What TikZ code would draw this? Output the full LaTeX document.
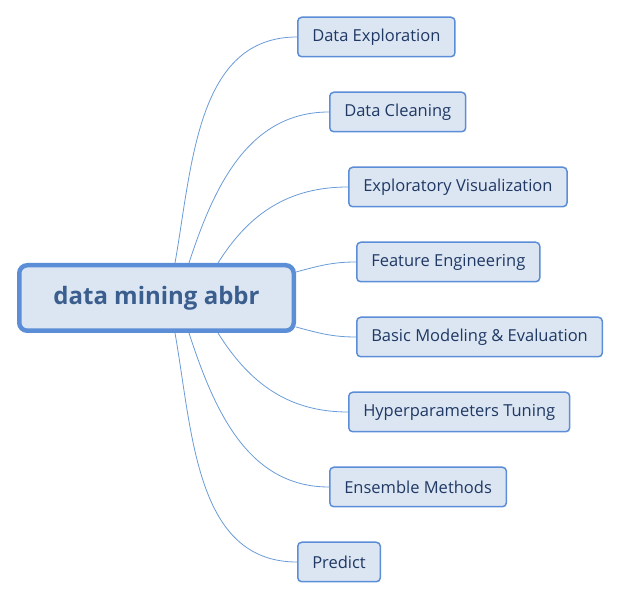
\documentclass[tikz,border=0pt]{standalone}
\usepackage{fontspec}
\setmainfont{Open Sans}
\definecolor{boxfill}{HTML}{DCE6F2}
\definecolor{boxline}{HTML}{5B8ED6}
\definecolor{boxtext}{HTML}{1F3864}
\definecolor{roottext}{HTML}{3A5E8E}
\definecolor{linkline}{HTML}{6A9BD8}

\tikzset{
	root/.style = {rectangle, rounded corners=8pt, draw=boxline, fill=boxfill, line width=4.5pt, minimum width=274.5pt, minimum height=65.5pt, text=roottext, font=\fontsize{24}{26}\selectfont\bfseries},
	leaf/.style = {rectangle, rounded corners=4pt, draw=boxline, fill=boxfill, line width=1.5pt, minimum height=39.5pt, inner xsep=14.5pt, text=boxtext, font=\fontsize{16.5}{19}\selectfont, anchor=west},
	branch/.style = {draw=linkline, line width=0.8pt}
}

\begin{document}
\begin{tikzpicture}[x=1pt, y=1pt]
	\useasboundingbox (0,0) rectangle (619,600);
	\node[root] (mining) at (156.5,302) {data mining abbr};
	\node[leaf] (explore) at (297,563) {Data Exploration};
	\node[leaf] (clean) at (329,488) {Data Cleaning};
	\node[leaf] (visual) at (348,413) {Exploratory Visualization};
	\node[leaf] (feature) at (356,338) {Feature Engineering};
	\node[leaf] (model) at (356,263) {Basic Modeling \& Evaluation};
	\node[leaf] (tune) at (348,188) {Hyperparameters Tuning};
	\node[leaf] (ensemble) at (329,113) {Ensemble Methods};
	\node[leaf] (predict) at (297,38) {Predict};
	% upper branches
	\draw[branch] ([xshift=158pt]mining.north west) to[out=80, in=180] (explore.west);
	\draw[branch] ([xshift=172pt]mining.north west) to[out=72, in=180] (clean.west);
	\draw[branch] ([xshift=201pt]mining.north west) to[out=58, in=180] (visual.west);
	\draw[branch] ([yshift=26pt]mining.east) to[out=15, in=180] (feature.west);
	% lower branches
	\draw[branch] ([yshift=-29pt]mining.east) to[out=-15, in=180] (model.west);
	\draw[branch] ([xshift=201pt]mining.south west) to[out=-58, in=180] (tune.west);
	\draw[branch] ([xshift=172pt]mining.south west) to[out=-72, in=180] (ensemble.west);
	\draw[branch] ([xshift=158pt]mining.south west) to[out=-80, in=180] (predict.west);
\end{tikzpicture}
\end{document}
